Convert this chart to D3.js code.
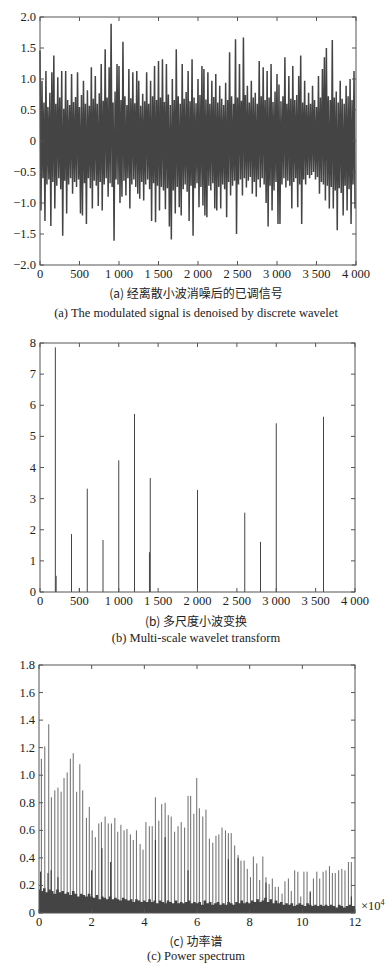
<!DOCTYPE html>
<html>
<head>
<meta charset="utf-8">
<script src="https://cdn.jsdelivr.net/npm/d3@7"></script>
<style>
  body { margin: 0; background: #fff; }
  svg { display: block; }
</style>
</head>
<body>
<svg id="chart" width="392" height="968"></svg>
<script>
// (a) denoised signal: upper / lower peaks read every 25 samples
const aUpper = [1.46,0.97,0.62,1.13,0.55,0.78,1.11,1.38,0.6,1.03,0.7,1.13,0.52,1.13,0.66,0.58,1.08,0.63,0.71,1.11,
  0.55,0.74,0.97,0.6,0.82,0.57,1.19,0.68,1.05,0.6,0.77,1.24,0.65,1.48,0.7,1.19,1.89,0.62,0.8,1.24,
  1.21,0.66,1.6,0.72,0.58,1.16,0.69,1.11,0.61,1.13,0.97,0.57,0.76,0.64,1.11,0.6,0.97,0.72,1.21,0.66,
  1.29,0.7,1.32,0.63,1.24,0.75,0.58,1.0,0.66,1.48,0.72,0.6,1.24,0.68,0.79,1.13,0.64,1.32,0.7,0.61,
  1.0,0.74,1.21,1.16,0.67,1.11,0.6,0.97,0.71,1.08,0.62,0.89,0.68,0.58,0.94,0.66,1.43,0.72,0.6,1.64,
  0.7,1.24,0.65,1.67,0.74,0.89,0.62,0.97,0.7,0.78,0.6,1.29,0.72,1.19,0.66,1.13,0.7,1.24,0.63,0.8,
  1.08,0.91,0.64,0.72,1.35,0.6,1.05,0.68,1.21,0.66,0.74,1.05,1.38,0.62,0.97,0.58,0.78,0.6,0.89,0.66,
  0.55,1.05,0.7,1.16,1.35,1.5,0.72,0.66,1.63,0.7,0.8,0.62,0.97,0.68,0.6,0.89,0.72,1.0,0.66,1.13];
const aLower = [-1.12,-0.6,-1.29,-0.7,-0.62,-1.37,-0.66,-1.09,-0.72,-0.6,-0.78,-1.53,-0.64,-1.17,-0.7,-0.6,-0.85,-0.66,-0.74,-0.62,
  -1.17,-1.2,-0.68,-1.34,-0.6,-0.76,-1.09,-0.64,-0.72,-1.05,-0.66,-1.12,-0.7,-0.6,-0.9,-0.68,-0.74,-1.61,-0.62,-0.7,
  -1.0,-0.9,-0.64,-0.88,-0.6,-1.09,-0.7,-0.62,-0.74,-0.85,-0.93,-0.66,-0.96,-0.7,-0.62,-0.78,-1.29,-0.68,-1.31,-0.72,
  -1.12,-0.74,-0.8,-1.1,-0.76,-1.38,-1.59,-0.8,-1.17,-0.74,-1.07,-1.2,-0.78,-0.7,-0.82,-1.29,-0.72,-1.53,-0.76,-0.68,
  -1.07,-0.74,-1.04,-1.2,-1.23,-0.72,-0.8,-0.68,-1.09,-1.12,-0.74,-1.09,-0.7,-0.78,-1.23,-0.66,-0.88,-0.72,-0.64,-1.5,
  -0.7,-0.62,-0.88,-0.6,-0.75,-0.64,-0.58,-0.85,-0.66,-0.9,-0.62,-0.75,-0.6,-0.7,-1.0,-1.38,-0.72,-1.12,-0.8,-0.66,
  -1.34,-1.34,-0.7,-0.6,-0.75,-0.64,-0.72,-1.09,-0.66,-0.6,-1.07,-0.7,-1.34,-0.62,-0.7,-0.55,-0.6,-0.55,-0.5,-0.62,
  -0.58,-0.85,-0.66,-0.7,-0.96,-0.72,-1.09,-0.74,-1.09,-0.8,-1.44,-0.76,-0.84,-1.2,-0.72,-1.12,-0.78,-1.34,-0.7,-1.09];
const aStep = 25;

// (b) multi-scale wavelet transform spikes
const bPos = [195, 205, 400, 500, 600, 800, 1000, 1200, 1390, 1400, 2000, 2600, 2800, 3000, 3600];
const bVal = [7.86, 0.52, 1.86, 0.13, 3.32, 1.67, 4.23, 5.72, 1.28, 3.66, 3.28, 2.55, 1.61, 5.42, 5.63];

// (c) power spectrum: harmonic spikes (x in 1e4), secondary spikes, noise floor every 0.1
const cPos = [0.09,0.22,0.37,0.47,0.60,0.72,0.84,0.95,1.07,1.19,1.30,1.43,1.55,1.66,1.80,1.91,2.02,2.14,2.27,2.37,
  2.51,2.63,2.75,2.88,2.99,3.11,3.23,3.34,3.47,3.58,3.70,3.84,3.95,4.06,4.19,4.30,4.42,4.55,4.66,4.79,
  4.91,5.02,5.15,5.28,5.40,5.53,5.66,5.76,5.88,5.99,6.09,6.22,6.34,6.47,6.60,6.72,6.83,6.95,7.08,7.19,
  7.30,7.43,7.56,7.67,7.79,7.91,8.03,8.14,8.27,8.38,8.50,8.62,8.74,8.86,8.97,9.09,9.23,9.34,9.47,9.58,
  9.71,9.83,9.94,10.06,10.18,10.30,10.42,10.55,10.66,10.79,10.90,11.03,11.14,11.25,11.38,11.50,11.62,11.75,11.86];
const cVal = [1.12,1.21,1.37,0.84,0.89,0.91,0.88,0.98,1.02,1.12,1.16,0.88,1.08,0.89,0.69,0.77,0.60,0.55,0.65,0.66,
  0.70,0.65,0.65,0.69,0.59,0.64,0.60,0.61,0.57,0.53,0.60,0.50,0.46,0.66,0.63,0.63,0.84,0.67,0.79,0.80,
  0.71,0.70,0.59,0.63,0.66,0.62,0.85,0.85,0.72,0.98,0.76,0.70,0.75,0.54,0.51,0.56,0.57,0.62,0.60,0.58,
  0.58,0.49,0.42,0.38,0.38,0.32,0.26,0.41,0.36,0.24,0.41,0.26,0.21,0.25,0.19,0.19,0.14,0.23,0.25,0.16,
  0.31,0.30,0.12,0.30,0.30,0.16,0.25,0.30,0.25,0.30,0.31,0.34,0.29,0.29,0.31,0.32,0.31,0.37,0.37];
const cPos2 = [0.06,0.34,0.46,0.72,2.00,2.39,2.72,4.42,4.79,5.66,7.19,7.56,8.62,10.30,11.86];
const cVal2 = [0.30,0.29,0.31,0.26,0.31,0.47,0.37,0.53,0.55,0.31,0.39,0.40,0.22,0.15,0.12];
const cFloor = [0.17,0.16,0.18,0.15,0.17,0.16,0.14,0.17,0.15,0.16,
  0.14,0.15,0.13,0.16,0.14,0.12,0.14,0.13,0.12,0.14,
  0.12,0.11,0.13,0.10,0.12,0.11,0.10,0.12,0.10,0.11,
  0.10,0.09,0.11,0.10,0.09,0.10,0.08,0.10,0.09,0.08,
  0.09,0.08,0.10,0.08,0.09,0.07,0.09,0.08,0.07,0.09,
  0.08,0.07,0.09,0.07,0.08,0.07,0.08,0.09,0.07,0.08,
  0.07,0.08,0.06,0.09,0.07,0.08,0.06,0.07,0.08,0.06,
  0.07,0.06,0.08,0.07,0.06,0.08,0.07,0.09,0.07,0.08,
  0.07,0.09,0.08,0.10,0.08,0.09,0.11,0.08,0.10,0.07,
  0.09,0.07,0.08,0.06,0.07,0.06,0.07,0.05,0.06,0.07,
  0.06,0.05,0.07,0.06,0.05,0.06,0.05,0.06,0.05,0.06,
  0.05,0.06,0.05,0.04,0.06,0.05,0.04,0.05,0.06,0.05,0.05];

const abTicksX = [0, 500, 1000, 1500, 2000, 2500, 3000, 3500, 4000];
const aTicksY = [-2, -1.5, -1, -0.5, 0, 0.5, 1, 1.5, 2];
const bTicksY = [0, 1, 2, 3, 4, 5, 6, 7, 8];
const cTicksX = [0, 2, 4, 6, 8, 10, 12];
const cTicksY = [0, 0.2, 0.4, 0.6, 0.8, 1.0, 1.2, 1.4, 1.6, 1.8];

const SERIF = "'Liberation Serif', 'Times New Roman', 'DejaVu Serif', serif";
const CJK = "'Noto Sans CJK SC', sans-serif";

const svg = d3.select("#chart");

const fmtThousand = v => v >= 1000 ? Math.floor(v / 1000) + " " + String(v % 1000).padStart(3, "0") : String(v);
const fmtDec = v => v === 0 ? "0" : v.toFixed(1).replace("-", "\u2212");

function label(g, x, y, txt, anchor) {
    return g.append("text")
        .attr("x", x).attr("y", y)
        .attr("text-anchor", anchor)
        .attr("font-family", SERIF)
        .attr("font-size", 12.5)
        .attr("fill", "#222")
        .text(txt);
}

// box frame with inward ticks on all four sides (matlab style)
function frame(g, x, y, ticksX, ticksY, fx, fy) {
    const [x0, x1] = x.range();
    const [y0, y1] = y.range();
    const tl = 4;
    g.append("rect")
        .attr("x", x0).attr("y", y1)
        .attr("width", x1 - x0).attr("height", y0 - y1)
        .attr("fill", "none").attr("stroke", "#555").attr("stroke-width", 1);
    ticksX.forEach(t => {
        const px = x(t);
        g.append("line").attr("x1", px).attr("x2", px).attr("y1", y0).attr("y2", y0 - tl).attr("stroke", "#555");
        g.append("line").attr("x1", px).attr("x2", px).attr("y1", y1).attr("y2", y1 + tl).attr("stroke", "#555");
        label(g, px, y0 + 13, fx(t), "middle");
    });
    ticksY.forEach(t => {
        const py = y(t);
        g.append("line").attr("x1", x0).attr("x2", x0 + tl).attr("y1", py).attr("y2", py).attr("stroke", "#555");
        g.append("line").attr("x1", x1).attr("x2", x1 - tl).attr("y1", py).attr("y2", py).attr("stroke", "#555");
        label(g, x0 - 4, py + 4, fy(t), "end");
    });
}

function caption(zh, en, yZh, yEn) {
    svg.append("text").attr("x", 196).attr("y", yZh)
        .attr("text-anchor", "middle")
        .attr("font-family", CJK).attr("font-size", 12).attr("fill", "#222")
        .text(zh);
    svg.append("text").attr("x", 196).attr("y", yEn)
        .attr("text-anchor", "middle")
        .attr("font-family", SERIF).attr("font-size", 12.5).attr("fill", "#222")
        .text(en);
}

// ---- panel (a)
{
    const x = d3.scaleLinear().domain([0, 4000]).range([40, 356]);
    const y = d3.scaleLinear().domain([-2, 2]).range([265, 17]);
    const g = svg.append("g");
    const pts = [];
    aUpper.forEach((v, i) => {
        pts.push([i * aStep, v]);
        pts.push([i * aStep + aStep / 2, aLower[i]]);
    });
    g.append("path")
        .datum(pts)
        .attr("fill", "none")
        .attr("stroke", "#444")
        .attr("stroke-width", 1.5)
        .attr("stroke-linejoin", "bevel")
        .attr("d", d3.line().x(d => x(d[0])).y(d => y(d[1])));
    frame(g, x, y, abTicksX, aTicksY, fmtThousand, fmtDec);
    caption("(a) 经离散小波消噪后的已调信号", "(a) The modulated signal is denoised by discrete wavelet", 298, 317);
}

// ---- panel (b)
{
    const x = d3.scaleLinear().domain([0, 4000]).range([40, 355]);
    const y = d3.scaleLinear().domain([0, 8]).range([592, 343]);
    const g = svg.append("g");
    g.selectAll("line.spike")
        .data(bPos)
        .join("line")
        .attr("class", "spike")
        .attr("x1", d => x(d)).attr("x2", d => x(d))
        .attr("y1", y(0)).attr("y2", (d, i) => y(bVal[i]))
        .attr("stroke", "#444").attr("stroke-width", 1);
    frame(g, x, y, abTicksX, bTicksY, fmtThousand, d => String(d));
    caption("(b) 多尺度小波变换", "(b) Multi-scale wavelet transform", 626, 642);
}

// ---- panel (c)
{
    const x = d3.scaleLinear().domain([0, 12]).range([39, 355]);
    const y = d3.scaleLinear().domain([0, 1.8]).range([913, 665]);
    const g = svg.append("g");
    g.selectAll("line.spike")
        .data(cPos)
        .join("line")
        .attr("class", "spike")
        .attr("x1", d => x(d)).attr("x2", d => x(d))
        .attr("y1", y(0)).attr("y2", (d, i) => y(cVal[i]))
        .attr("stroke", "#6a6a6a").attr("stroke-width", 1);
    g.selectAll("line.spike2")
        .data(cPos2)
        .join("line")
        .attr("class", "spike2")
        .attr("x1", d => x(d)).attr("x2", d => x(d))
        .attr("y1", y(0)).attr("y2", (d, i) => y(cVal2[i]))
        .attr("stroke", "#333").attr("stroke-width", 1);
    g.append("path")
        .datum(cFloor)
        .attr("fill", "#444")
        .attr("d", d3.area().curve(d3.curveStep)
            .x((d, i) => x(i * 0.1)).y0(y(0)).y1(d => y(d)));
    frame(g, x, y, cTicksX, cTicksY, d => String(d), fmtDec);
    const t = label(g, 361, 910, "", "start");
    t.append("tspan").text("\u00d710");
    t.append("tspan").attr("dy", -5).attr("font-size", 8).text("4");
    caption("(c) 功率谱", "(c) Power spectrum", 946, 960);
}
</script>
</body>
</html>
